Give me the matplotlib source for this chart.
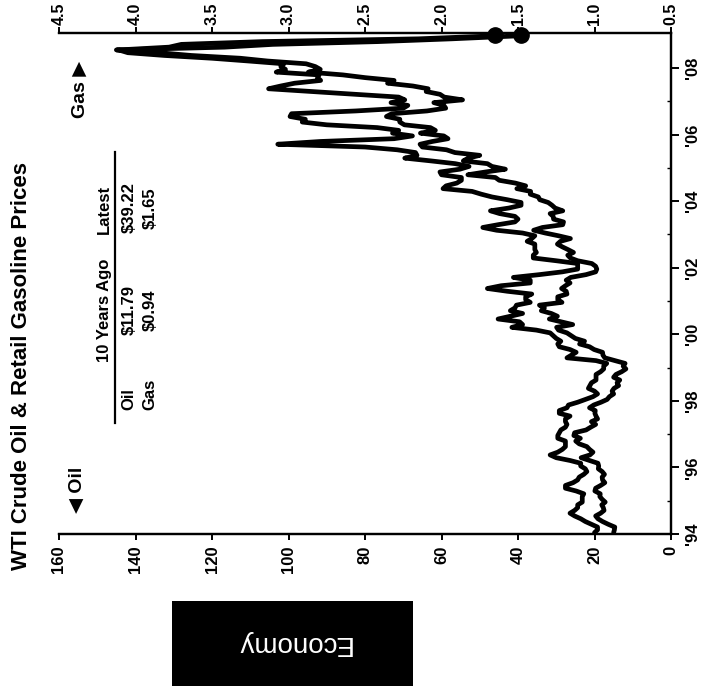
import numpy as np
import matplotlib
matplotlib.use("Agg")
import matplotlib.pyplot as plt

plt.rcParams['font.family'] = ['Liberation Sans', 'DejaVu Sans']
plt.rcParams['font.weight'] = 'bold'

# Monthly WTI crude oil ($/bbl), Jan 1994 .. Dec 2008
wti_oil = [
    15.0, 14.8, 14.7, 16.4, 17.9, 19.1, 19.7, 18.4, 17.5, 17.7, 18.1, 17.2,   # 1994
    18.0, 18.6, 18.5, 19.9, 19.7, 18.4, 17.3, 17.9, 18.0, 17.4, 18.0, 19.0,   # 1995
    18.9, 19.1, 21.3, 23.5, 21.2, 20.4, 21.3, 22.0, 24.0, 24.9, 23.7, 25.4,   # 1996
    25.2, 22.2, 21.0, 19.7, 20.8, 19.2, 19.6, 19.9, 19.8, 21.3, 20.2, 18.3,   # 1997
    16.7, 16.1, 15.0, 15.4, 14.9, 13.7, 14.1, 13.4, 15.0, 14.4, 12.9, 11.79,  # 1998
    12.5, 12.0, 14.7, 17.3, 17.8, 17.9, 20.1, 21.3, 23.9, 22.6, 25.0, 26.1,   # 1999
    27.2, 29.4, 29.9, 25.7, 28.8, 31.8, 29.7, 31.3, 33.9, 33.1, 34.4, 28.5,   # 2000
    29.6, 29.6, 27.2, 27.4, 28.6, 27.6, 26.4, 27.4, 26.2, 22.2, 19.7, 19.4,   # 2001
    19.7, 20.7, 24.4, 26.3, 27.0, 25.5, 26.9, 28.4, 29.7, 28.9, 26.3, 29.4,   # 2002
    32.9, 35.9, 33.6, 28.3, 28.1, 30.7, 30.8, 31.6, 28.3, 30.3, 31.1, 32.1,   # 2003
    34.3, 34.7, 36.8, 36.7, 40.3, 38.0, 40.7, 44.9, 45.9, 53.1, 48.5, 43.3,   # 2004
    46.8, 48.0, 54.3, 53.0, 50.0, 56.5, 58.7, 65.0, 65.6, 62.4, 58.3, 59.4,   # 2005
    65.5, 61.6, 62.9, 69.7, 70.9, 70.9, 74.4, 73.0, 63.8, 58.9, 59.4, 62.0,   # 2006
    54.5, 59.3, 60.4, 64.0, 63.5, 67.5, 74.1, 72.4, 79.9, 85.8, 94.8, 91.7,   # 2007
    93.0, 95.4, 105.5, 112.6, 125.4, 133.9, 145.0, 116.7, 104.1, 76.6, 57.3, 41.1,  # 2008
]

# Monthly US retail gasoline ($/gal), Jan 1994 .. Dec 2008
retail_gas = [
    1.00, 0.98, 0.98, 1.02, 1.06, 1.09, 1.13, 1.16, 1.13, 1.11, 1.11, 1.08,   # 1994
    1.08, 1.08, 1.07, 1.12, 1.19, 1.19, 1.14, 1.11, 1.10, 1.07, 1.05, 1.06,   # 1995
    1.09, 1.09, 1.16, 1.25, 1.29, 1.24, 1.21, 1.19, 1.19, 1.19, 1.24, 1.24,   # 1996
    1.23, 1.22, 1.19, 1.18, 1.19, 1.19, 1.16, 1.23, 1.23, 1.18, 1.17, 1.11,   # 1997
    1.06, 1.01, 0.98, 1.00, 1.04, 1.03, 1.02, 0.99, 0.99, 0.99, 0.96, 0.94,   # 1998
    0.94, 0.92, 0.99, 1.18, 1.15, 1.12, 1.16, 1.23, 1.24, 1.22, 1.25, 1.27,   # 1999
    1.29, 1.38, 1.54, 1.47, 1.49, 1.63, 1.55, 1.47, 1.55, 1.52, 1.51, 1.42,   # 2000
    1.45, 1.45, 1.41, 1.57, 1.70, 1.61, 1.42, 1.42, 1.53, 1.36, 1.21, 1.11,   # 2001
    1.11, 1.11, 1.25, 1.40, 1.40, 1.38, 1.39, 1.39, 1.39, 1.44, 1.41, 1.39,   # 2002
    1.47, 1.64, 1.73, 1.63, 1.52, 1.50, 1.52, 1.62, 1.68, 1.56, 1.48, 1.48,   # 2003
    1.57, 1.67, 1.74, 1.80, 1.99, 1.97, 1.90, 1.87, 1.87, 2.00, 2.01, 1.88,   # 2004
    1.82, 1.91, 2.07, 2.24, 2.16, 2.17, 2.29, 2.50, 3.07, 2.79, 2.31, 2.19,   # 2005
    2.32, 2.28, 2.42, 2.75, 2.91, 2.89, 2.99, 2.98, 2.56, 2.25, 2.22, 2.33,   # 2006
    2.24, 2.28, 2.56, 2.85, 3.13, 3.05, 2.96, 2.79, 2.81, 2.80, 3.08, 3.02,   # 2007
    3.05, 3.03, 3.26, 3.50, 3.81, 4.05, 4.11, 3.78, 3.70, 3.17, 2.15, 1.69,   # 2008
]

latest_oil = 39.22
latest_gas = 1.65
ago_oil = 11.79
ago_gas = 0.94

oil_ticks = [0, 20, 40, 60, 80, 100, 120, 140, 160]
gas_ticks = [0.5, 1.0, 1.5, 2.0, 2.5, 3.0, 3.5, 4.0, 4.5]
year_ticks = [1994, 1996, 1998, 2000, 2002, 2004, 2006, 2008]
year_labels = ["'94", "'96", "'98", "'00", "'02", "'04", "'06", "'08"]

W, H = 704, 686


def fx(px):
    return px / W


def fy(py):
    return 1 - py / H


n = len(wti_oil)
t = 1994 + (np.arange(n) + 0.5) / 12.0
t_last = 2008.99
oil = np.append(wti_oil, latest_oil)
gas = np.append(retail_gas, latest_gas)
tt = np.append(t, t_last)

fig = plt.figure(figsize=(W / 100, H / 100), dpi=100)
fig.patch.set_facecolor('white')

ax = fig.add_axes([fx(59), fy(534), fx(671) - fx(59), fy(33) - fy(534)])
ax.set_xlim(160, 0)
ax.set_ylim(1994, 2009.05)
ax.plot(oil, tt, color='black', lw=3.4, solid_joinstyle='round', solid_capstyle='round')
ax.plot([latest_oil], [t_last], 'o', color='black', ms=11, clip_on=False)

ax2 = ax.twiny()
ax2.set_xlim(4.5, 0.5)
ax2.plot(gas, tt, color='black', lw=3.4, solid_joinstyle='round', solid_capstyle='round')
ax2.plot([latest_gas], [t_last], 'o', color='black', ms=11, clip_on=False)

for a in (ax, ax2):
    a.spines['left'].set_visible(False)
    for s in ('top', 'bottom', 'right'):
        a.spines[s].set_linewidth(1.6)
        a.spines[s].set_color('black')

# oil axis (bottom)
ax.set_xticks(oil_ticks)
ax.set_xticklabels([str(v) for v in oil_ticks])
ax.tick_params(axis='x', direction='out', length=4.5, width=1.4, labelsize=12,
               labelrotation=90, pad=4)

# time axis (right)
ax.yaxis.tick_right()
ax.set_yticks(year_ticks)
ax.set_yticklabels(year_labels)
ax.set_yticks(list(range(1995, 2009, 2)), minor=True)
ax.tick_params(axis='y', which='major', direction='out', length=6, width=1.4,
               labelsize=12, labelrotation=90, pad=4, left=False, right=True)
ax.tick_params(axis='y', which='minor', direction='in', length=3, width=1.0,
               left=False, right=True)
for lbl in ax.get_yticklabels():
    lbl.set_va('center')

# gas axis (top)
ax2.set_xticks(gas_ticks)
ax2.set_xticklabels([f"{v:.1f}" for v in gas_ticks])
ax2.tick_params(axis='x', direction='out', length=4, width=1.4, labelsize=11.5,
                labelrotation=90, pad=2)

# title and axis markers
fig.text(fx(22), fy(366), "WTI Crude Oil & Retail Gasoline Prices", rotation=90,
         ha='center', va='center', fontsize=16, fontweight='bold')
fig.text(fx(77), fy(490), "\u25c0 Oil", rotation=90, ha='center', va='center',
         fontsize=14, fontweight='bold')
fig.text(fx(80), fy(89), "Gas \u25b6", rotation=90, ha='center', va='center',
         fontsize=14, fontweight='bold')

# summary table
fig.text(fx(104), fy(310), "10 Years Ago", rotation=90, ha='center', va='center', fontsize=12)
fig.text(fx(104), fy(209), "Latest", rotation=90, ha='center', va='center', fontsize=12)
fig.add_artist(plt.Line2D([fx(115), fx(115)], [fy(423), fy(152)], color='black', lw=1.6,
                          transform=fig.transFigure))
rows = [("Oil", ago_oil, latest_oil, 129), ("Gas", ago_gas, latest_gas, 150)]
for name, ago, now, px in rows:
    fig.text(fx(px), fy(410), name, rotation=90, ha='center', va='bottom', fontsize=12)
    fig.text(fx(px), fy(310), f"${ago:.2f}", rotation=90, ha='center', va='center', fontsize=12)
    fig.text(fx(px), fy(208), f"${now:.2f}", rotation=90, ha='center', va='center', fontsize=12)

# section tab
fig.add_artist(plt.Rectangle((fx(172), fy(686)), fx(413) - fx(172), fy(601) - fy(686),
                             transform=fig.transFigure, facecolor='black', edgecolor='none'))
fig.text(fx(293), fy(643), "Economy", rotation=180, ha='center', va='center',
         fontsize=20, fontweight='normal', color='white')

fig.savefig("out.png", dpi=100, facecolor='white')
